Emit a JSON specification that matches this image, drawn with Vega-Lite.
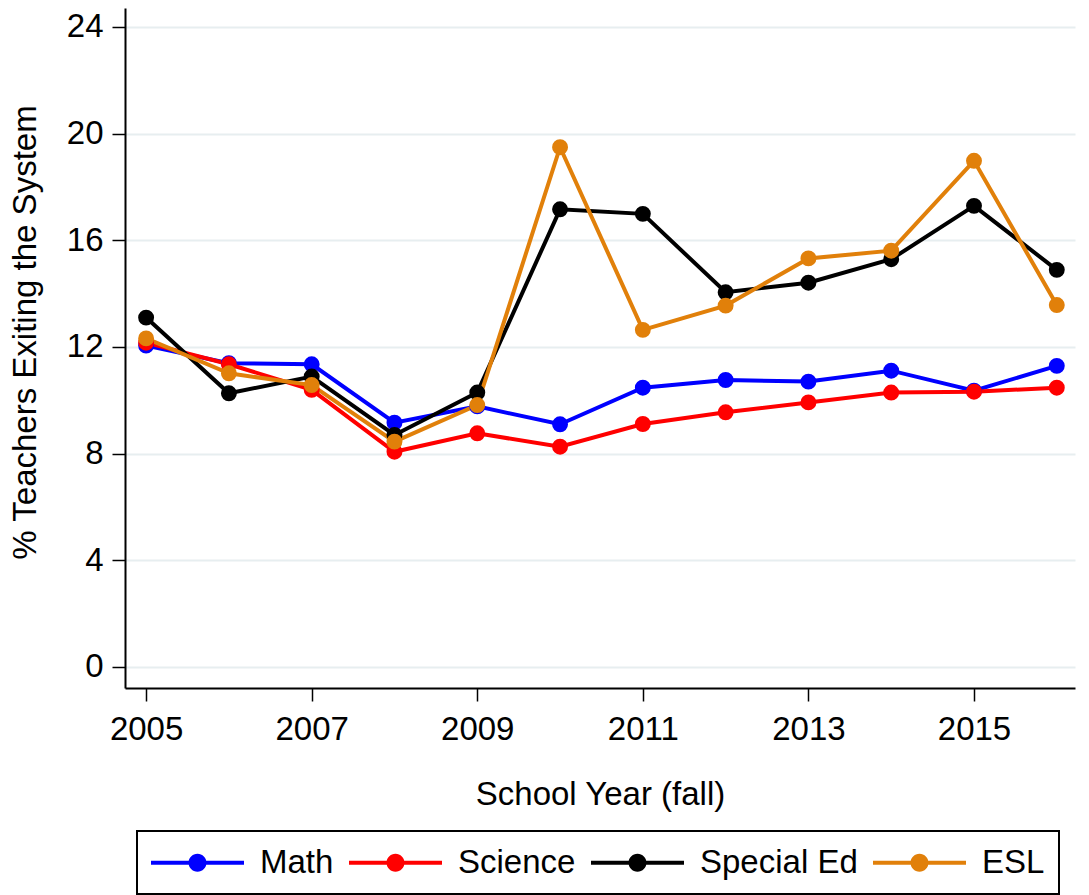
{
  "$schema": "https://vega.github.io/schema/vega-lite/v6.json",
  "width": 950,
  "height": 680,
  "autosize": {"type": "none"},
  "padding": {"left": 125, "top": 8, "right": 14, "bottom": 207},
  "background": "white",
  "config": {
    "view": {"stroke": null},
    "font": "Liberation Sans",
    "axis": {
      "domainColor": "black", "domainWidth": 2,
      "tickColor": "black", "tickWidth": 1.5, "tickSize": 13,
      "labelColor": "black", "labelFont": "Liberation Sans", "labelFontSize": 33,
      "titleColor": "black", "titleFont": "Liberation Sans", "titleFontSize": 33, "titleFontWeight": "normal",
      "gridColor": "#e7eef0", "gridWidth": 2
    }
  },
  "data": {
    "values": [
      {"year": 2005, "group": "Math", "pct": 12.05},
      {"year": 2006, "group": "Math", "pct": 11.39},
      {"year": 2007, "group": "Math", "pct": 11.35},
      {"year": 2008, "group": "Math", "pct": 9.16},
      {"year": 2009, "group": "Math", "pct": 9.77},
      {"year": 2010, "group": "Math", "pct": 9.1},
      {"year": 2011, "group": "Math", "pct": 10.47},
      {"year": 2012, "group": "Math", "pct": 10.76},
      {"year": 2013, "group": "Math", "pct": 10.7},
      {"year": 2014, "group": "Math", "pct": 11.11},
      {"year": 2015, "group": "Math", "pct": 10.36},
      {"year": 2016, "group": "Math", "pct": 11.29},
      {"year": 2005, "group": "Science", "pct": 12.16},
      {"year": 2006, "group": "Science", "pct": 11.35},
      {"year": 2007, "group": "Science", "pct": 10.39},
      {"year": 2008, "group": "Science", "pct": 8.07},
      {"year": 2009, "group": "Science", "pct": 8.76},
      {"year": 2010, "group": "Science", "pct": 8.26},
      {"year": 2011, "group": "Science", "pct": 9.11},
      {"year": 2012, "group": "Science", "pct": 9.55},
      {"year": 2013, "group": "Science", "pct": 9.92},
      {"year": 2014, "group": "Science", "pct": 10.29},
      {"year": 2015, "group": "Science", "pct": 10.32},
      {"year": 2016, "group": "Science", "pct": 10.47},
      {"year": 2005, "group": "Special Ed", "pct": 13.1},
      {"year": 2006, "group": "Special Ed", "pct": 10.26},
      {"year": 2007, "group": "Special Ed", "pct": 10.89},
      {"year": 2008, "group": "Special Ed", "pct": 8.7},
      {"year": 2009, "group": "Special Ed", "pct": 10.29},
      {"year": 2010, "group": "Special Ed", "pct": 17.16},
      {"year": 2011, "group": "Special Ed", "pct": 16.99},
      {"year": 2012, "group": "Special Ed", "pct": 14.05},
      {"year": 2013, "group": "Special Ed", "pct": 14.41},
      {"year": 2014, "group": "Special Ed", "pct": 15.29},
      {"year": 2015, "group": "Special Ed", "pct": 17.29},
      {"year": 2016, "group": "Special Ed", "pct": 14.89},
      {"year": 2005, "group": "ESL", "pct": 12.32},
      {"year": 2006, "group": "ESL", "pct": 11.01},
      {"year": 2007, "group": "ESL", "pct": 10.57},
      {"year": 2008, "group": "ESL", "pct": 8.45},
      {"year": 2009, "group": "ESL", "pct": 9.82},
      {"year": 2010, "group": "ESL", "pct": 19.49},
      {"year": 2011, "group": "ESL", "pct": 12.64},
      {"year": 2012, "group": "ESL", "pct": 13.55},
      {"year": 2013, "group": "ESL", "pct": 15.32},
      {"year": 2014, "group": "ESL", "pct": 15.61},
      {"year": 2015, "group": "ESL", "pct": 18.98},
      {"year": 2016, "group": "ESL", "pct": 13.57}
    ]
  },
  "encoding": {
    "x": {
      "field": "year", "type": "quantitative",
      "scale": {"domain": [2004.745, 2016.22], "nice": false, "zero": false},
      "axis": {"values": [2005, 2007, 2009, 2011, 2013, 2015], "format": "d", "grid": false,
               "labelPadding": 12, "title": "School Year (fall)", "titlePadding": 32}
    },
    "y": {
      "field": "pct", "type": "quantitative",
      "scale": {"domain": [-0.79, 24.71], "nice": false, "zero": false},
      "axis": {"values": [0, 4, 8, 12, 16, 20, 24], "grid": true, "labelPadding": 9,
               "title": "% Teachers Exiting the System", "titlePadding": 24, "titleY": 324}
    },
    "color": {
      "field": "group", "type": "nominal",
      "scale": {"domain": ["Math", "Science", "Special Ed", "ESL"],
                "range": ["#0000ff", "#ff0000", "#000000", "#e1800a"]},
      "legend": {
        "title": null,
        "orient": "none",
        "legendX": 12,
        "legendY": 823,
        "direction": "horizontal",
        "strokeColor": "black",
        "padding": 14,
        "symbolType": "M-2.657,-0.114 L2.657,-0.114 L2.657,0.114 L-2.657,0.114 Z M-0.514,0 A0.514,0.514 0 1,1 0.514,0 A0.514,0.514 0 1,1 -0.514,0 Z",
        "symbolSize": 1225,
        "symbolOffset": 29,
        "symbolStrokeWidth": 0,
        "symbolOpacity": 1,
        "labelFont": "Liberation Sans",
        "labelFontSize": 33,
        "labelColor": "black",
        "labelOffset": 45,
        "columnPadding": 15,
        "labelLimit": 400,
        "encode": {"legend": {"update": {"strokeWidth": {"value": 2}}}}
      }
    },
    "order": {"field": "year"}
  },
  "layer": [
    {
      "mark": {"type": "line", "strokeWidth": 4}
    },
    {
      "mark": {"type": "point", "filled": true, "opacity": 1, "size": 254, "shape": "circle"}
    }
  ]
}
